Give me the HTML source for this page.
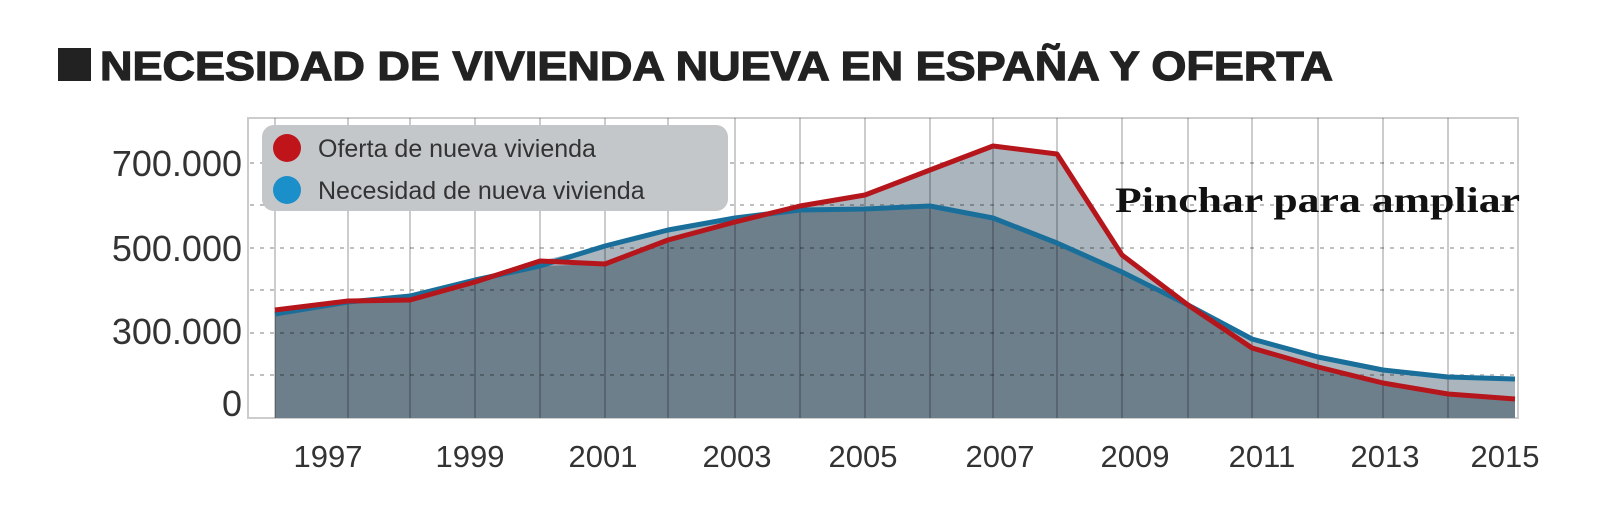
<!DOCTYPE html>
<html><head><meta charset="utf-8"><style>body{margin:0;background:#fff}svg{display:block}</style></head><body>
<svg width="1600" height="514" xmlns="http://www.w3.org/2000/svg">
<rect x="58" y="48" width="33" height="33" fill="#222"/>
<text x="100" y="80" font-family="Liberation Sans, sans-serif" font-weight="bold" font-size="41" fill="#222" stroke="#222" stroke-width="1.2" textLength="1233" lengthAdjust="spacingAndGlyphs">NECESIDAD DE VIVIENDA NUEVA EN ESPAÑA Y OFERTA</text>
<rect x="248" y="118" width="1270" height="300" fill="none" stroke="#ccc" stroke-width="2"/>
<polygon fill="#aab5be" points="275,418 275,310 348,301 410,296 475,280 540,261 605,246 668,230 735,218 800,206 865,195 930,170 993,146 1057,154 1122,255 1188,305 1252,339 1318,357 1383,370 1448,377 1515,379 1515,418"/>
<polygon fill="#6e7f8c" points="275,418 275,314 348,302 410,300 475,282 540,266 605,264 668,240 735,222 800,210 865,209 930,206 993,218 1057,243 1122,272 1188,305 1252,348 1318,367 1383,383 1448,394 1515,399 1515,418"/>
<g stroke="rgba(0,0,0,0.2)" stroke-width="2">
<line x1="275" y1="118" x2="275" y2="418"/><line x1="348" y1="118" x2="348" y2="418"/><line x1="410" y1="118" x2="410" y2="418"/><line x1="475" y1="118" x2="475" y2="418"/><line x1="540" y1="118" x2="540" y2="418"/><line x1="605" y1="118" x2="605" y2="418"/><line x1="668" y1="118" x2="668" y2="418"/><line x1="735" y1="118" x2="735" y2="418"/><line x1="800" y1="118" x2="800" y2="418"/><line x1="865" y1="118" x2="865" y2="418"/><line x1="930" y1="118" x2="930" y2="418"/><line x1="993" y1="118" x2="993" y2="418"/><line x1="1057" y1="118" x2="1057" y2="418"/><line x1="1122" y1="118" x2="1122" y2="418"/><line x1="1188" y1="118" x2="1188" y2="418"/><line x1="1252" y1="118" x2="1252" y2="418"/><line x1="1318" y1="118" x2="1318" y2="418"/><line x1="1383" y1="118" x2="1383" y2="418"/><line x1="1448" y1="118" x2="1448" y2="418"/>
</g>
<g stroke="rgba(0,0,0,0.25)" stroke-width="2" stroke-dasharray="4,6">
<line x1="250" y1="163" x2="1518" y2="163"/><line x1="250" y1="205" x2="1518" y2="205"/><line x1="250" y1="248" x2="1518" y2="248"/><line x1="250" y1="290" x2="1518" y2="290"/><line x1="250" y1="333" x2="1518" y2="333"/><line x1="250" y1="375" x2="1518" y2="375"/>
</g>
<polyline fill="none" stroke="#1a6f9a" stroke-width="5" stroke-linejoin="round" points="275,314 348,302 410,296 475,280 540,266 605,246 668,230 735,218 800,210 865,209 930,206 993,218 1057,243 1122,272 1188,305 1252,339 1318,357 1383,370 1448,377 1515,379"/>
<polyline fill="none" stroke="#b5161b" stroke-width="5" stroke-linejoin="round" points="275,310 348,301 410,300 475,282 540,261 605,264 668,240 735,222 800,206 865,195 930,170 993,146 1057,154 1122,255 1188,305 1252,348 1318,367 1383,383 1448,394 1515,399"/>
<rect x="262" y="125" width="466" height="86" rx="12" fill="#c4c7ca"/>
<circle cx="287" cy="148" r="14" fill="#c0141b"/>
<circle cx="287" cy="190" r="14" fill="#1b8fc9"/>
<g font-family="Liberation Sans, sans-serif" font-size="25" fill="#333">
<text x="318" y="157">Oferta de nueva vivienda</text>
<text x="318" y="199">Necesidad de nueva vivienda</text>
</g>
<g font-family="Liberation Sans, sans-serif" font-size="36" fill="#333" text-anchor="end">
<text x="242" y="176">700.000</text>
<text x="242" y="261">500.000</text>
<text x="242" y="344">300.000</text>
<text x="242" y="416">0</text>
</g>
<g font-family="Liberation Sans, sans-serif" font-size="31" fill="#333" text-anchor="middle">
<text x="328" y="467">1997</text><text x="470" y="467">1999</text><text x="603" y="467">2001</text><text x="737" y="467">2003</text><text x="863" y="467">2005</text><text x="1000" y="467">2007</text><text x="1135" y="467">2009</text><text x="1262" y="467">2011</text><text x="1385" y="467">2013</text><text x="1505" y="467">2015</text>
</g>
<text x="1115" y="212" font-family="Liberation Serif, serif" font-weight="bold" font-size="36" fill="#111" textLength="405" lengthAdjust="spacingAndGlyphs">Pinchar para ampliar</text>
</svg>
</body></html>
